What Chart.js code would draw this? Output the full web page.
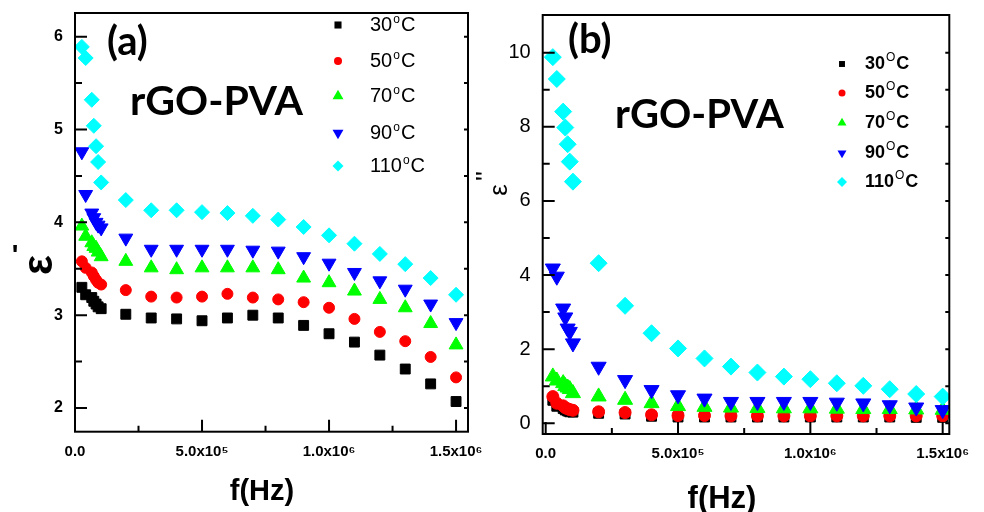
<!DOCTYPE html>
<html>
<head>
<meta charset="utf-8">
<script src="https://cdn.jsdelivr.net/npm/chart.js@4/dist/chart.umd.min.js"></script>
<style>
    html, body { margin: 0; padding: 0; background: #fff; }
    #quadro { position: relative; width: 984px; height: 512px; overflow: hidden; }
    canvas { position: absolute; top: 0; }
    #grafico-a { left: 0; }
    #grafico-b { left: 460px; }
</style>
</head>
<body>
<div id="quadro">
    <canvas id="grafico-a" width="500" height="512"></canvas>
    <canvas id="grafico-b" width="524" height="512"></canvas>
</div>
<script>
// Frequências (Hz) e temperaturas
const frequencias = [27e3, 42e3, 66e3, 74e3, 83e3, 91e3, 103e3,
    2e5, 3e5, 4e5, 5e5, 6e5, 7e5, 8e5, 9e5, 1e6, 1.1e6, 1.2e6, 1.3e6, 1.4e6, 1.5e6];
const temperaturas = ['30', '50', '70', '90', '110'];

// (a) parte real ε'
const real30  = [3.30, 3.22, 3.19, 3.15, 3.12, 3.09, 3.07, 3.01, 2.97, 2.96, 2.94, 2.97, 3.00, 2.97, 2.89, 2.80, 2.71, 2.57, 2.42, 2.26, 2.07];
const real50  = [3.58, 3.51, 3.46, 3.42, 3.38, 3.35, 3.33, 3.27, 3.20, 3.19, 3.20, 3.23, 3.19, 3.17, 3.14, 3.08, 2.96, 2.82, 2.72, 2.55, 2.33];
const real70  = [3.96, 3.85, 3.78, 3.74, 3.72, 3.68, 3.63, 3.58, 3.51, 3.49, 3.51, 3.51, 3.51, 3.49, 3.40, 3.35, 3.26, 3.17, 3.08, 2.91, 2.68];
const real90  = [4.76, 4.30, 4.10, 4.05, 4.00, 3.97, 3.94, 3.83, 3.71, 3.71, 3.71, 3.71, 3.70, 3.69, 3.63, 3.56, 3.46, 3.37, 3.28, 3.12, 2.92];
const real110 = [5.89, 5.77, 5.32, 5.04, 4.82, 4.65, 4.43, 4.24, 4.13, 4.13, 4.11, 4.10, 4.07, 4.03, 3.95, 3.86, 3.77, 3.66, 3.55, 3.40, 3.22];

// (b) parte imaginária ε''
const imag30  = [0.62, 0.46, 0.40, 0.36, 0.33, 0.31, 0.30, 0.27, 0.25, 0.19, 0.17, 0.17, 0.17, 0.17, 0.17, 0.17, 0.17, 0.17, 0.17, 0.16, 0.16];
const imag50  = [0.72, 0.54, 0.47, 0.42, 0.39, 0.37, 0.35, 0.31, 0.29, 0.23, 0.21, 0.21, 0.20, 0.20, 0.20, 0.20, 0.20, 0.20, 0.20, 0.20, 0.20];
const imag70  = [1.26, 1.15, 1.08, 1.00, 0.96, 0.92, 0.81, 0.72, 0.63, 0.54, 0.46, 0.44, 0.42, 0.41, 0.40, 0.40, 0.39, 0.38, 0.38, 0.37, 0.36];
const imag90  = [4.18, 3.96, 3.10, 2.86, 2.56, 2.47, 2.16, 1.53, 1.17, 0.90, 0.76, 0.67, 0.58, 0.58, 0.58, 0.58, 0.56, 0.54, 0.49, 0.43, 0.36];
const imag110 = [9.88, 9.29, 8.41, 7.98, 7.53, 7.06, 6.52, 4.32, 3.17, 2.43, 2.02, 1.75, 1.53, 1.37, 1.26, 1.19, 1.08, 1.01, 0.92, 0.79, 0.72];

// Eixos
const ticksX = [0, 5e5, 1e6, 1.5e6];
const rotulosX = ['0.0', '5.0x10\u2075', '1.0x10\u2076', '1.5x10\u2076'];
const ticksYa = [2, 3, 4, 5, 6];
const ticksYb = [0, 2, 4, 6, 8, 10];

const cores = ['#000000', '#ff0000', '#00ff00', '#0000ff', '#00ffff'];
const estilos = ['rect', 'circle', 'triangle', 'triangle', 'rectRot'];
const rotacoes = [0, 0, 0, 180, 0];
const estilosLegenda = ['rect', 'circle', 'triangulo', 'trianguloBaixo', 'rectRot'];

function marcador(ctx, estilo, x, y, r, cor) {
    ctx.fillStyle = cor;
    ctx.beginPath();
    if (estilo === 'rect') {
        ctx.rect(x - r * 0.707, y - r * 0.707, r * 1.414, r * 1.414);
    } else if (estilo === 'circle') {
        ctx.arc(x, y, r, 0, Math.PI * 2);
    } else if (estilo === 'rectRot') {
        ctx.moveTo(x, y - r); ctx.lineTo(x + r, y); ctx.lineTo(x, y + r); ctx.lineTo(x - r, y);
    } else {
        const s = estilo === 'trianguloBaixo' ? -1 : 1;
        ctx.moveTo(x, y - s * r);
        ctx.lineTo(x + 0.866 * r, y + s * r / 2);
        ctx.lineTo(x - 0.866 * r, y + s * r / 2);
    }
    ctx.closePath();
    ctx.fill();
}

function textoGirado(ctx, txt, x, y, fonte) {
    ctx.save();
    ctx.translate(x, y);
    ctx.rotate(-Math.PI / 2);
    ctx.font = fonte;
    ctx.textAlign = 'center';
    ctx.textBaseline = 'alphabetic';
    ctx.fillText(txt, 0, 0);
    ctx.restore();
}

function meios(lista) {
    const r = [];
    for (let i = 0; i < lista.length - 1; i++) r.push((lista[i] + lista[i + 1]) / 2);
    return r;
}

// Moldura, ticks internos, legenda e textos
function criarMoldura(cfg) {
    return {
        id: 'moldura',
        afterDraw(chart) {
            const ctx = chart.ctx;
            const { left, top, right, bottom } = chart.chartArea;
            const sx = chart.scales.x, sy = chart.scales.y;
            ctx.save();
            ctx.strokeStyle = '#000';
            ctx.lineWidth = 2;
            ctx.strokeRect(left, top, right - left, bottom - top);
            ctx.beginPath();
            ticksX.forEach(v => { const p = sx.getPixelForValue(v); ctx.moveTo(p, bottom); ctx.lineTo(p, bottom - 12); });
            meios(ticksX).forEach(v => { const p = sx.getPixelForValue(v); ctx.moveTo(p, bottom); ctx.lineTo(p, bottom - 6); });
            cfg.ticksY.forEach(v => { const p = sy.getPixelForValue(v); ctx.moveTo(left, p); ctx.lineTo(left + 12, p); });
            meios(cfg.ticksY).forEach(v => { const p = sy.getPixelForValue(v); ctx.moveTo(left, p); ctx.lineTo(left + 7, p); });
            cfg.ticksDireita.forEach(v => { const p = sy.getPixelForValue(v); ctx.moveTo(right, p); ctx.lineTo(right - 4, p); });
            ctx.stroke();

            const dx = cfg.dx;
            ctx.fillStyle = '#000';
            ctx.textAlign = 'left';
            ctx.textBaseline = 'alphabetic';
            ctx.font = 'bold 40px Lato';
            ctx.fillText(cfg.painel, cfg.painelX - dx, cfg.painelY);
            ctx.font = cfg.fonteNome;
            ctx.fillText('rGO-PVA', cfg.nomeX - dx, cfg.nomeY);

            // legenda
            const L = cfg.legenda;
            L.ys.forEach((y, i) => {
                marcador(ctx, estilosLegenda[i], L.x - dx, y, L.raios[i], cores[i]);
                ctx.fillStyle = '#000';
                ctx.textBaseline = 'middle';
                let x = L.tx - dx;
                ctx.font = L.fonte;
                ctx.fillText(temperaturas[i], x, y);
                x += ctx.measureText(temperaturas[i]).width + 1;
                ctx.font = L.fonteSup;
                ctx.fillText(L.sup, x, y + L.supDy);
                x += ctx.measureText(L.sup).width + 1;
                ctx.font = L.fonte;
                ctx.fillText('C', x, y);
            });

            // títulos dos eixos
            ctx.font = cfg.fonteTituloX;
            ctx.textAlign = 'center';
            ctx.fillText('f(Hz)', cfg.tituloX[0] - dx, cfg.tituloX[1]);
            cfg.tituloY(ctx, dx);
            ctx.restore();
        }
    };
}

function criarPainel(id, series, cfg) {
    const ctx = document.getElementById(id).getContext('2d');
    return new Chart(ctx, {
        type: 'scatter',
        data: {
            datasets: series.map((s, i) => ({
                label: temperaturas[i] + '°C',
                data: frequencias.map((f, k) => ({ x: f, y: s[k] })),
                pointStyle: estilos[i],
                pointRotation: rotacoes[i],
                pointRadius: cfg.raios[i],
                backgroundColor: cores[i],
                borderColor: cores[i],
                borderWidth: 1,
                order: 5 - i
            }))
        },
        options: {
            responsive: false,
            animation: false,
            layout: { padding: cfg.padding },
            plugins: { legend: { display: false }, tooltip: { enabled: false } },
            scales: {
                x: {
                    type: 'linear',
                    min: cfg.xMin, max: cfg.xMax,
                    afterFit: s => { s.height = cfg.alturaX; },
                    afterBuildTicks: s => { s.ticks = ticksX.map(v => ({ value: v })); },
                    grid: { display: false, drawTicks: false },
                    border: { display: false },
                    ticks: {
                        color: '#000',
                        font: { family: 'Liberation Sans', size: 15, weight: 'bold' },
                        padding: 11,
                        maxRotation: 0,
                        autoSkip: false,
                        callback: (v, i) => rotulosX[i]
                    }
                },
                y: {
                    type: 'linear',
                    min: cfg.yMin, max: cfg.yMax,
                    afterFit: s => { s.width = cfg.larguraY; s.paddingTop = 0; s.paddingBottom = 0; },
                    afterBuildTicks: s => { s.ticks = cfg.ticksY.map(v => ({ value: v })); },
                    grid: { display: false, drawTicks: false },
                    border: { display: false },
                    ticks: {
                        color: '#000',
                        font: cfg.fonteY,
                        padding: 12,
                        autoSkip: false
                    }
                }
            }
        },
        plugins: [criarMoldura(cfg)]
    });
}

const ticksDireitaA = [];
for (let v = 2; v <= 6; v += 0.5) ticksDireitaA.push(v);

criarPainel('grafico-a', [real30, real50, real70, real90, real110], {
    dx: 0,
    padding: { left: 0, top: 13, right: 32, bottom: 0 },
    larguraY: 75, alturaX: 80.3,
    xMin: 0, xMax: 1.547e6, yMin: 1.745, yMax: 6.255,
    ticksY: ticksYa, ticksDireita: ticksDireitaA,
    fonteY: { family: 'Liberation Sans', size: 16, weight: 'bold' },
    raios: [7, 5.5, 8, 8, 7.5],
    painel: '(a)', painelX: 107, painelY: 55,
    fonteNome: 'bold 41px Lato', nomeX: 130, nomeY: 115,
    legenda: {
        x: 338, tx: 370, ys: [25, 61, 96, 133, 166],
        raios: [5, 4, 6.3, 6.3, 5.5],
        fonte: '20px "Liberation Sans"', fonteSup: '12px "Liberation Sans"', sup: 'o', supDy: -5
    },
    fonteTituloX: 'bold 29px "Liberation Sans"', tituloX: [262, 492],
    tituloY: (ctx, dx) => {
        textoGirado(ctx, '\u03b5', 52 - dx, 265, 'bold 42px "Liberation Sans"');
        ctx.font = 'bold 28px "Liberation Sans"';
        ctx.textAlign = 'center';
        ctx.textBaseline = 'alphabetic';
        ctx.fillText("'", 15 - dx, 264);
    }
});

criarPainel('grafico-b', [imag30, imag50, imag70, imag90, imag110], {
    dx: 460,
    padding: { left: 0, top: 15, right: 34.7, bottom: 0 },
    larguraY: 82.7, alturaX: 78,
    xMin: -11300, xMax: 1.525e6, yMin: -0.289, yMax: 11.017,
    ticksY: ticksYb, ticksDireita: [0, 1, 2, 3, 4, 5, 6, 7, 8, 9, 10],
    fonteY: { family: 'Liberation Sans', size: 20 },
    raios: [7, 6, 8.7, 8.7, 8.5],
    painel: '(b)', painelX: 568, painelY: 53,
    fonteNome: 'bold 40px Lato', nomeX: 615, nomeY: 128,
    legenda: {
        x: 842, tx: 865, ys: [64, 93, 123, 153, 182],
        raios: [4.2, 3.5, 5.2, 5.2, 5],
        fonte: 'bold 18px "Liberation Sans"', fonteSup: '12px "Liberation Sans"', sup: 'O', supDy: -6
    },
    fonteTituloX: 'bold 31px "Liberation Sans"', tituloX: [722, 499],
    tituloY: (ctx, dx) => {
        textoGirado(ctx, '\u03b5', 507 - dx, 190, '26px "Liberation Sans"');
        textoGirado(ctx, "''", 494 - dx, 176, '26px "Liberation Sans"');
    }
});
</script>
</body>
</html>
